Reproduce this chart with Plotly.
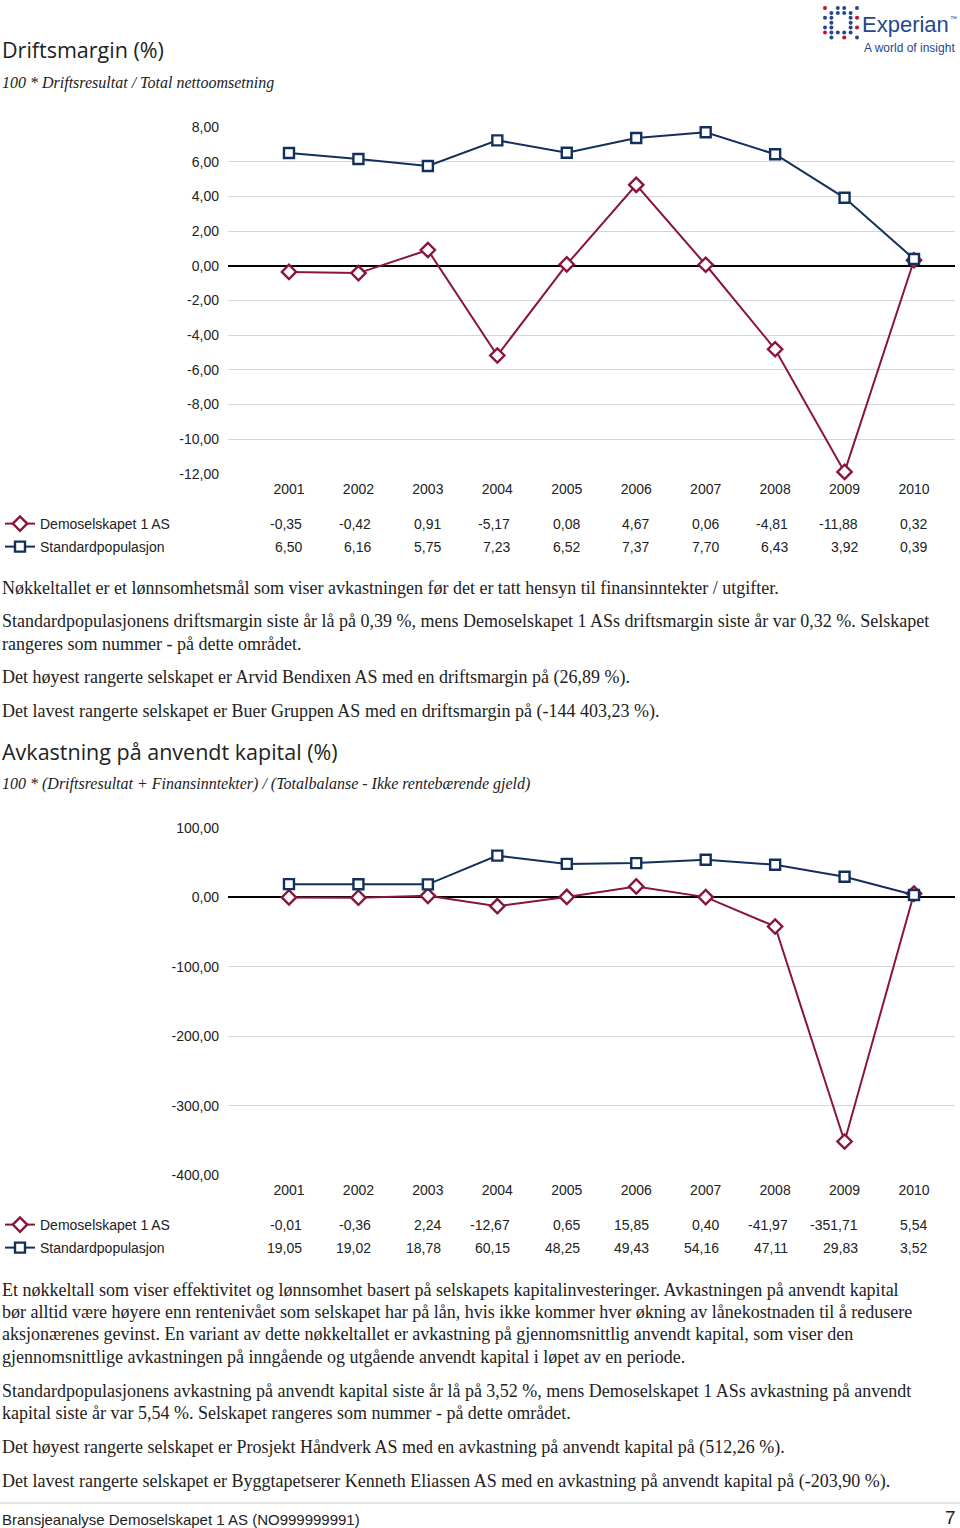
import plotly.graph_objects as go

W, H = 960, 1528

# ---------------- data ----------------
years = [2001, 2002, 2003, 2004, 2005, 2006, 2007, 2008, 2009, 2010]
series_names = ["Demoselskapet 1 AS", "Standardpopulasjon"]

dm_demo = [-0.35, -0.42, 0.91, -5.17, 0.08, 4.67, 0.06, -4.81, -11.88, 0.32]
dm_std = [6.50, 6.16, 5.75, 7.23, 6.52, 7.37, 7.70, 6.43, 3.92, 0.39]
dm_ticks = [8, 6, 4, 2, 0, -2, -4, -6, -8, -10, -12]

ak_demo = [-0.01, -0.36, 2.24, -12.67, 0.65, 15.85, 0.40, -41.97, -351.71, 5.54]
ak_std = [19.05, 19.02, 18.78, 60.15, 48.25, 49.43, 54.16, 47.11, 29.83, 3.52]
ak_ticks = [100, 0, -100, -200, -300, -400]

dm_title = "Driftsmargin (%)"
dm_formula = "100 * Driftsresultat / Total nettoomsetning"
dm_text = [
    "Nøkkeltallet er et lønnsomhetsmål som viser avkastningen før det er tatt hensyn til finansinntekter / utgifter.",
    "Standardpopulasjonens driftsmargin siste år lå på 0,39 %, mens Demoselskapet 1 ASs driftsmargin siste år var 0,32 %. Selskapet",
    "rangeres som nummer - på dette området.",
    "Det høyest rangerte selskapet er Arvid Bendixen AS med en driftsmargin på (26,89 %).",
    "Det lavest rangerte selskapet er Buer Gruppen AS med en driftsmargin på (-144 403,23 %).",
]
ak_title = "Avkastning på anvendt kapital (%)"
ak_formula = "100 * (Driftsresultat + Finansinntekter) / (Totalbalanse - Ikke rentebærende gjeld)"
ak_text = [
    "Et nøkkeltall som viser effektivitet og lønnsomhet basert på selskapets kapitalinvesteringer. Avkastningen på anvendt kapital",
    "bør alltid være høyere enn rentenivået som selskapet har på lån, hvis ikke kommer hver økning av lånekostnaden til å redusere",
    "aksjonærenes gevinst. En variant av dette nøkkeltallet er avkastning på gjennomsnittlig anvendt kapital, som viser den",
    "gjennomsnittlige avkastningen på inngående og utgående anvendt kapital i løpet av en periode.",
    "Standardpopulasjonens avkastning på anvendt kapital siste år lå på 3,52 %, mens Demoselskapet 1 ASs avkastning på anvendt",
    "kapital siste år var 5,54 %. Selskapet rangeres som nummer - på dette området.",
    "Det høyest rangerte selskapet er Prosjekt Håndverk AS med en avkastning på anvendt kapital på (512,26 %).",
    "Det lavest rangerte selskapet er Byggtapetserer Kenneth Eliassen AS med en avkastning på anvendt kapital på (-203,90 %).",
]
footer_text = "Bransjeanalyse Demoselskapet 1 AS (NO999999991)"
page_no = "7"
logo_name = "Experian"
logo_tag = "A world of insight"

# ---------------- styles ----------------
RED = "#8a1538"
NAVY = "#13305c"
GRID = "#d6d6d6"
TXT = "#222222"
BLUE = "#26478d"
SANS = "Liberation Sans, Arial, sans-serif"
SERIF = "Liberation Serif, Times New Roman, serif"
HEAD = "Open Sans, Noto Sans, sans-serif"


def py(px):
    return 1 - px / H


def px_x(px):
    return px / W


def fmt(v):
    s = f"{abs(v):,.2f}".replace(",", " ").replace(".", ",")
    return ("-" if v < 0 else "") + s


fig = go.Figure()

markers = [
    dict(symbol="diamond", size=11, color="white", line=dict(color=RED, width=2.4)),
    dict(symbol="square", size=10, color="white", line=dict(color=NAVY, width=2.4)),
]
colors = [RED, NAVY]

charts = [
    dict(xa="x", ya="y", vals=[dm_demo, dm_std], legends=["legend", "legend2"], rows=[524, 547]),
    dict(xa="x2", ya="y2", vals=[ak_demo, ak_std], legends=["legend3", "legend4"], rows=[1225, 1248]),
]

for ch in charts:
    for i in range(2):
        fig.add_trace(go.Scatter(
            x=years, y=ch["vals"][i], name=series_names[i],
            mode="lines+markers", xaxis=ch["xa"], yaxis=ch["ya"],
            line=dict(color=colors[i], width=2), marker=markers[i],
            cliponaxis=False, legend=ch["legends"][i], showlegend=True,
        ))
        # table values under the chart
        for yr, v in zip(years, ch["vals"][i]):
            fig.add_annotation(
                x=yr, y=py(ch["rows"][i]), xref=ch["xa"], yref="paper",
                text=fmt(v), showarrow=False, xanchor="right", yanchor="middle",
                xshift=15, font=dict(family=SANS, size=14, color=TXT),
            )

xr = [2000.122, 2010.59]
xdom = [px_x(228), px_x(955)]
axis_x = dict(range=xr, domain=xdom, showgrid=False, zeroline=False, showline=False,
              tickmode="array", tickvals=years, ticktext=[str(y) for y in years],
              ticks="", ticklabelstandoff=4, tickfont=dict(family=SANS, size=14, color=TXT),
              fixedrange=True, automargin=False)
axis_y = dict(showgrid=True, gridcolor=GRID, gridwidth=1, zeroline=True,
              zerolinecolor="#000000", zerolinewidth=2, showline=False, ticks="",
              ticklabelstandoff=8, tickmode="array", automargin=False,
              tickfont=dict(family=SANS, size=14, color=TXT), fixedrange=True)

fig.update_layout(
    xaxis=dict(axis_x, anchor="y"),
    yaxis=dict(axis_y, anchor="x", domain=[py(474.5), py(126.5)], range=[-12.03, 8.03],
               tickvals=dm_ticks, ticktext=[fmt(t) for t in dm_ticks]),
    xaxis2=dict(axis_x, anchor="y2"),
    yaxis2=dict(axis_y, anchor="x2", domain=[py(1175.5), py(827.5)], range=[-400.7, 100.7],
                tickvals=ak_ticks, ticktext=[fmt(t) for t in ak_ticks]),
)

# legends, one per row (container refs so they do not push the margins)
leg_common = dict(xanchor="left", yanchor="middle", bgcolor="rgba(0,0,0,0)",
                  font=dict(family=SANS, size=14, color=TXT), itemwidth=30,
                  borderwidth=0, xref="container", yref="container")
LX = 0
fig.update_layout(
    legend=dict(leg_common, x=LX, y=py(524)),
    legend2=dict(leg_common, x=LX, y=py(547)),
    legend3=dict(leg_common, x=LX, y=py(1225)),
    legend4=dict(leg_common, x=LX, y=py(1248)),
)


def text_ann(txt, xpx, ypx, font, xanchor="left"):
    fig.add_annotation(x=px_x(xpx), y=py(ypx), xref="paper", yref="paper", text=txt,
                       showarrow=False, xanchor=xanchor, yanchor="middle", font=font, align="left")


head_font = dict(family=HEAD, size=21.5, color=TXT)
formula_font = dict(family=SERIF, size=16, color=TXT)
body_font = dict(family=SERIF, size=18, color=TXT)

text_ann(dm_title, 0, 50, head_font)
text_ann("<i>" + dm_formula + "</i>", 0, 83, formula_font)
for t, yp in zip(dm_text, [588, 621, 644, 677, 711]):
    text_ann(t, 0, yp, body_font)

text_ann(ak_title, 0, 751, head_font)
text_ann("<i>" + ak_formula + "</i>", 0, 784, formula_font)
for t, yp in zip(ak_text, [1290, 1312, 1334, 1357, 1391, 1413, 1447, 1481]):
    text_ann(t, 0, yp, body_font)

# footer
fig.add_shape(type="line", xref="paper", yref="paper", x0=0, x1=1, y0=py(1503), y1=py(1503),
              line=dict(color="#cccccc", width=1))
text_ann(footer_text, 0, 1519, dict(family=SANS, size=15, color=TXT))
text_ann(page_no, 958, 1517, dict(family=SANS, size=19, color=TXT), xanchor="right")

# Experian logo
text_ann(logo_name, 860, 25, dict(family=SANS, size=22, color=BLUE))
text_ann("™", 948, 18, dict(family=SANS, size=7, color=BLUE))
text_ann(logo_tag, 862, 48, dict(family=SANS, size=12, color=BLUE))
logo_pattern = ["R.BB.B", ".BBBB.", "BB..BR", ".B..B.", "BB..BR", "RBBBB.", ".B.R.B"]
for j, row in enumerate(logo_pattern):
    for i, c in enumerate(row):
        if c == ".":
            continue
        cx, cy = 825 + 6.4 * i, 8 + 4.9 * j
        r = 2.0
        fig.add_shape(type="circle", xref="paper", yref="paper",
                      x0=px_x(cx - r), x1=px_x(cx + r), y0=py(cy + r), y1=py(cy - r),
                      fillcolor=BLUE if c == "B" else "#c8102e", line=dict(width=0))

fig.update_layout(
    width=W, height=H, margin=dict(l=0, r=0, t=0, b=0, autoexpand=False),
    paper_bgcolor="white", plot_bgcolor="white",
    showlegend=True,
)

fig.write_html("out.html", config={"displayModeBar": False},
               post_script="document.body.style.margin='0';document.body.style.overflow='hidden';")
